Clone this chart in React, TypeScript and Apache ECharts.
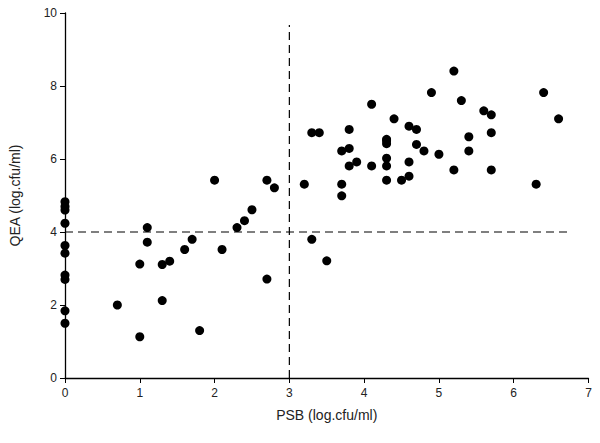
import React, { useEffect, useRef } from "react";
import * as echarts from "echarts";

const psb: number[] = [
  0, 0, 0, 0, 0, 0, 0, 0, 0, 0,
  0.7, 1.0, 1.0, 1.1, 1.1, 1.3, 1.3, 1.4, 1.6, 1.7, 1.8,
  2.0, 2.1, 2.3, 2.4, 2.5, 2.7, 2.8, 2.7,
  3.2, 3.3, 3.4, 3.3, 3.5,
  3.7, 3.7, 3.7, 3.8, 3.8, 3.8, 3.9,
  4.1, 4.1, 4.3, 4.3, 4.3, 4.3, 4.3, 4.3, 4.4,
  4.5, 4.6, 4.6, 4.7, 4.6, 4.7, 4.8, 4.9, 5.0,
  5.2, 5.2, 5.3, 5.4, 5.4, 5.6, 5.7, 5.7, 5.7,
  6.3, 6.4, 6.6,
];
const qea: number[] = [
  4.83, 4.7, 4.6, 4.24, 3.63, 3.42, 2.82, 2.7, 1.84, 1.5,
  2.0, 3.12, 1.13, 4.12, 3.72, 3.11, 2.12, 3.2, 3.52, 3.8, 1.3,
  5.42, 3.52, 4.12, 4.31, 4.61, 5.42, 5.21, 2.71,
  5.31, 6.72, 6.72, 3.8, 3.21,
  6.22, 5.31, 4.99, 6.81, 6.29, 5.81, 5.92,
  7.5, 5.81, 6.54, 6.42, 6.02, 5.81, 5.42, 6.5, 7.1,
  5.42, 5.53, 6.9, 6.81, 5.92, 6.4, 6.22, 7.82, 6.13,
  8.41, 5.7, 7.6, 6.61, 6.22, 7.32, 7.21, 6.72, 5.7,
  5.31, 7.82, 7.1,
];
const hLine: number[][] = [[0, 4], [6.77, 4]];
const vLine: number[][] = [[3, 0], [3, 9.67]];

const FONT = "'Liberation Sans', Arial, sans-serif";

export default function App() {
  const ref = useRef<HTMLDivElement>(null);
  useEffect(() => {
    if (!ref.current) return;
    const chart = echarts.init(ref.current, null, { renderer: "svg" });
    const points = psb.map((x, i) => [x, qea[i]]);
    chart.setOption({
      animation: false,
      backgroundColor: "#ffffff",
      grid: { left: 63.5, right: 11.5, top: 13, bottom: 65, containLabel: false },
      xAxis: {
        type: "value",
        min: 0,
        max: 7,
        interval: 1,
        name: "PSB (log.cfu/ml)",
        nameLocation: "middle",
        nameGap: 30,
        nameTextStyle: { fontFamily: FONT, fontSize: 14, color: "#222" },
        axisLine: { show: true, onZero: false, lineStyle: { color: "#000", width: 1.3 } },
        axisTick: { show: true, inside: false, length: 5, lineStyle: { color: "#000" } },
        axisLabel: { fontFamily: FONT, fontSize: 12, color: "#222", margin: 9 },
        splitLine: { show: false },
      },
      yAxis: {
        type: "value",
        min: 0,
        max: 10,
        interval: 2,
        name: "QEA (log.cfu/ml)",
        nameLocation: "middle",
        nameGap: 43,
        nameTextStyle: { fontFamily: FONT, fontSize: 14, color: "#222" },
        axisLine: { show: true, onZero: false, lineStyle: { color: "#000", width: 1.3 } },
        axisTick: { show: true, inside: false, length: 5, lineStyle: { color: "#000" } },
        axisLabel: { fontFamily: FONT, fontSize: 12, color: "#222", margin: 8 },
        splitLine: { show: false },
      },
      series: [
        {
          type: "line",
          data: hLine,
          symbol: "none",
          lineStyle: { color: "#000", width: 1.2, type: [8, 5] },
          z: 1,
        },
        {
          type: "line",
          data: vLine,
          symbol: "none",
          lineStyle: { color: "#000", width: 1.2, type: [8, 5] },
          z: 1,
        },
        {
          type: "scatter",
          data: points,
          symbol: "circle",
          symbolSize: 9,
          itemStyle: { color: "#000", opacity: 1 },
          emphasis: { disabled: true },
          z: 3,
        },
      ],
    });
    return () => chart.dispose();
  }, []);
  return <div ref={ref} style={{ width: 600, height: 443, position: "absolute", left: 0, top: 0 }} />;
}
